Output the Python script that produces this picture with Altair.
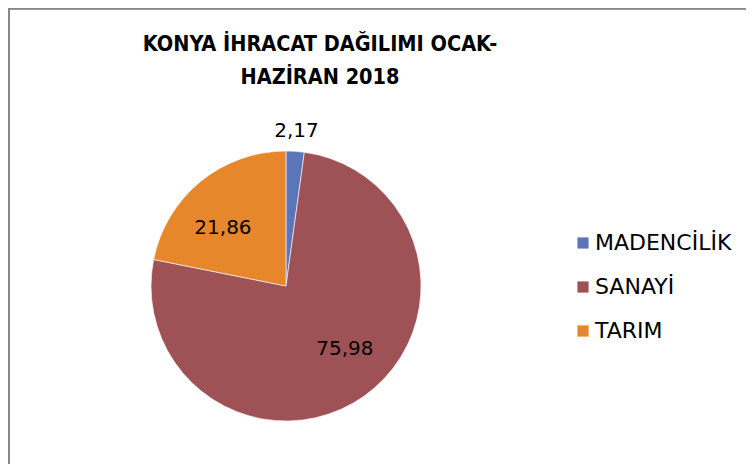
import altair as alt
import pandas as pd

categories = ["MADENCİLİK", "SANAYİ", "TARIM"]
values = [2.17, 75.98, 21.86]
colors = ["#5B76B8", "#9E5256", "#E5872A"]
title_lines = ["KONYA İHRACAT DAĞILIMI OCAK-", "HAZİRAN 2018"]

df = pd.DataFrame({"kategori": categories, "deger": values, "sira": [0, 1, 2]})

CX, CY, R = 278, 278, 135

color = alt.Color(
    "kategori:N",
    scale=alt.Scale(domain=categories, range=colors),
    legend=alt.Legend(
        title=None, orient="none", legendX=564, legendY=224,
        symbolType="square", symbolSize=125, symbolStrokeWidth=0,
        labelFont="DejaVu Sans", labelFontSize=22, labelColor="#000000",
        rowPadding=22, symbolOffset=0, labelOffset=1,
    ),
)

base = alt.Chart(df).encode(
    theta=alt.Theta("deger:Q", stack=True),
    order=alt.Order("sira:Q"),
)

pie = base.mark_arc(outerRadius=R, stroke="white", strokeWidth=0.6).encode(
    color=color, x=alt.value(CX), y=alt.value(CY)
)

lab = base.transform_calculate(
    etiket="replace(format(datum.deger, '.2f'), '.', ',')"
)

txt_out = lab.mark_text(radius=155, font="DejaVu Sans", fontSize=20, color="#000000").encode(
    text="etiket:N", x=alt.value(CX), y=alt.value(CY)
).transform_filter(alt.datum.kategori == "MADENCİLİK")

txt_in = lab.mark_text(radius=86, font="DejaVu Sans", fontSize=20, color="#000000").encode(
    text="etiket:N", x=alt.value(CX), y=alt.value(CY)
).transform_filter(alt.datum.kategori != "MADENCİLİK")

title = alt.Chart(pd.DataFrame({"t": [title_lines]})).mark_text(
    font="DejaVu Sans Condensed, DejaVu Sans", fontSize=21.5, fontWeight="bold",
    color="#000000", lineHeight=33, baseline="middle", align="center",
).encode(text="t", x=alt.value(312), y=alt.value(37))

frame_l = alt.Chart(df).mark_rule(color="#888888", strokeWidth=2).encode(
    x=alt.value(1), y=alt.value(0), y2=alt.value(470)
)
frame_t = alt.Chart(df).mark_rule(color="#888888", strokeWidth=2).encode(
    x=alt.value(0), x2=alt.value(760), y=alt.value(0.5)
)

chart = alt.layer(pie, txt_out, txt_in, title, frame_l, frame_t).properties(
    width=738, height=456,
    autosize=alt.AutoSizeParams(type="none"),
    padding=0,
).configure_view(stroke=None)

chart.save("out.html", embed_options={"renderer": "svg", "actions": False})
